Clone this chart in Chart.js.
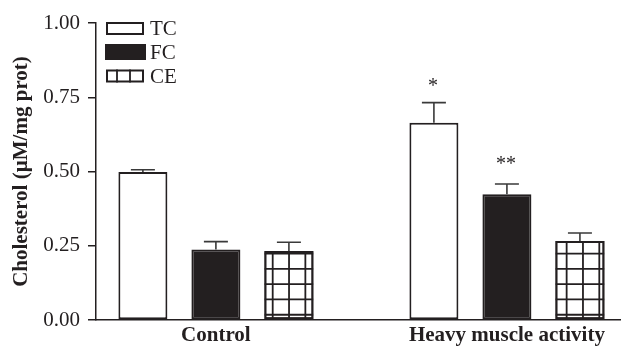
<!DOCTYPE html>
<html>
<head>
<meta charset="utf-8">
<script src="https://cdn.jsdelivr.net/npm/chart.js@4.4.1/dist/chart.umd.min.js"></script>
<style>
html,body{margin:0;padding:0;background:#fff;}
#c{display:block;}
</style>
</head>
<body>
<canvas id="c" width="621" height="346"></canvas>
<script>
// ---- data ----
const categories = ['Control', 'Heavy muscle activity'];
const seriesNames = ['TC', 'FC', 'CE'];
const tcValues = [0.498, 0.664];
const fcValues = [0.237, 0.423];
const ceValues = [0.232, 0.266];
const tcErrors = [0.008, 0.068];
const fcErrors = [0.027, 0.035];
const ceErrors = [0.030, 0.027];
const tcMarks = ['', '*'];
const fcMarks = ['', '**'];
const ceMarks = ['', ''];
const yTicks = [0, 0.25, 0.5, 0.75, 1.0];

const INK = '#231f20';
const FONT = "'Liberation Serif', 'Times New Roman', serif";

function pts(vals){ return vals.map((v,i)=>({x:i, y:v})); }

const datasets = [
  {label: seriesNames[0], data: pts(tcValues), errors: tcErrors, marks: tcMarks,
   backgroundColor:'#ffffff', borderColor: INK, borderWidth: 2, kind:'open'},
  {label: seriesNames[1], data: pts(fcValues), errors: fcErrors, marks: fcMarks,
   backgroundColor: INK, borderColor: INK, borderWidth: 2, kind:'solid'},
  {label: seriesNames[2], data: pts(ceValues), errors: ceErrors, marks: ceMarks,
   backgroundColor:'#ffffff', borderColor: INK, borderWidth: 2, kind:'grid'}
];
datasets.forEach(d=>{ d.borderSkipped = false; d.categoryPercentage = 0.7526; d.barPercentage = 0.6712; });

const gridPlugin = {
  id:'gridPattern',
  afterDatasetsDraw(chart){
    const ctx = chart.ctx;
    chart.data.datasets.forEach((ds, di)=>{
      const meta = chart.getDatasetMeta(di);
      if (ds.kind === 'grid') {
        meta.data.forEach(el=>{
          const left = el.x - el.width/2, right = el.x + el.width/2;
          const top = Math.min(el.y, el.base), bottom = Math.max(el.y, el.base);
          ctx.save();
          ctx.beginPath();
          ctx.rect(left, top, right-left, bottom-top);
          ctx.clip();
          ctx.strokeStyle = INK;
          ctx.lineWidth = 1.8;
          const px = 16.33, py = 15.3;
          let x0 = 272.7 - Math.ceil((272.7 - left)/px)*px;
          for (let x = x0; x <= right; x += px) {
            ctx.beginPath(); ctx.moveTo(x, top); ctx.lineTo(x, bottom); ctx.stroke();
          }
          for (let y = el.base - 4.5; y >= top; y -= py) {
            ctx.beginPath(); ctx.moveTo(left, y); ctx.lineTo(right, y); ctx.stroke();
          }
          ctx.restore();
          ctx.save();
          ctx.strokeStyle = INK; ctx.lineWidth = 2;
          ctx.strokeRect(left+1, top+1, right-left-2, bottom-top-2);
          ctx.restore();
        });
      }
    });
    // error bars and significance marks
    const ys = chart.scales.y;
    chart.data.datasets.forEach((ds, di)=>{
      const meta = chart.getDatasetMeta(di);
      meta.data.forEach((el, i)=>{
        const v = ds.data[i].y, e = ds.errors[i];
        const yTop = ys.getPixelForValue(v + e);
        ctx.save();
        ctx.strokeStyle = '#3a3a3a';
        ctx.lineWidth = 1.6;
        ctx.beginPath();
        ctx.moveTo(el.x, el.y); ctx.lineTo(el.x, yTop);
        ctx.moveTo(el.x - 12, yTop); ctx.lineTo(el.x + 12, yTop);
        ctx.stroke();
        if (ds.marks[i]) {
          ctx.fillStyle = INK;
          ctx.font = '20px ' + FONT;
          ctx.textAlign = 'center';
          ctx.textBaseline = 'alphabetic';
          ctx.fillText(ds.marks[i], el.x - 1, yTop - 11 - (ds.marks[i].length-1)*3);
        }
        ctx.restore();
      });
    });
  },
  afterDraw(chart){
    const ctx = chart.ctx;
    const bx = 106, bw = 38, bh = 13;
    const rowY = [28.5, 52, 76];
    chart.data.datasets.forEach((ds, di)=>{
      const cy = rowY[di];
      const top = cy - bh/2;
      ctx.save();
      if (ds.kind === 'solid') {
        ctx.fillStyle = INK;
        ctx.fillRect(bx - 1, cy - 8, bw + 3, 16);
      } else {
        ctx.fillStyle = '#fff';
        ctx.fillRect(bx, top, bw, bh);
        ctx.strokeStyle = INK; ctx.lineWidth = 2;
        ctx.strokeRect(bx + 1, top + 1, bw - 2, bh - 2);
        if (ds.kind === 'grid') {
          ctx.lineWidth = 1.8;
          [11, 24].forEach(o=>{
            ctx.beginPath(); ctx.moveTo(bx + o, top); ctx.lineTo(bx + o, top + bh); ctx.stroke();
          });
        }
      }
      ctx.fillStyle = INK;
      ctx.font = '21px ' + FONT;
      ctx.textAlign = 'left';
      ctx.textBaseline = 'middle';
      ctx.fillText(ds.label, 150, cy + 1);
      ctx.restore();
    });
  }
};

new Chart(document.getElementById('c'), {
  type: 'bar',
  data: { datasets },
  plugins: [gridPlugin],
  options: {
    responsive: false,
    animation: false,
    layout: { padding: { top: 23, left: 0, right: 0, bottom: 0 } },
    plugins: { legend: { display: false }, tooltip: { enabled: false } },
    scales: {
      x: {
        type: 'linear',
        offset: false,
        bounds: 'data',
        min: -0.412, max: 1.392,
        afterDataLimits(scale){ scale.min = -0.412; scale.max = 1.392; },
        afterBuildTicks(scale){ scale.ticks = categories.map((c,i)=>({value:i})); scale.min = -0.412; scale.max = 1.392; },
        afterFit(scale){ scale.height = 26; },
        grid: { display: false, drawTicks: false, offset: false },
        border: { display: true, color: INK, width: 1.5 },
        ticks: {
          padding: 3,
          color: INK,
          font: { family: FONT, size: 21, weight: 'bold' },
          callback: (v)=> categories[v] ?? ''
        }
      },
      y: {
        min: 0, max: 1,
        afterBuildTicks(scale){ scale.ticks = yTicks.map(v=>({value:v})); },
        afterFit(scale){ scale.width = 96; },
        grid: { drawOnChartArea: false, drawTicks: true, tickLength: 8, color: INK, lineWidth: 1.5 },
        border: { display: true, color: INK, width: 1.5 },
        ticks: {
          padding: 8,
          color: INK,
          font: { family: FONT, size: 21 },
          callback: (v)=> Number(v).toFixed(2)
        },
        title: {
          display: true,
          text: 'Cholesterol (µM/mg prot)',
          color: INK,
          font: { family: FONT, size: 21, weight: 'bold' },
          padding: { top: 9, bottom: 0 }
        }
      }
    }
  }
});
</script>
</body>
</html>
